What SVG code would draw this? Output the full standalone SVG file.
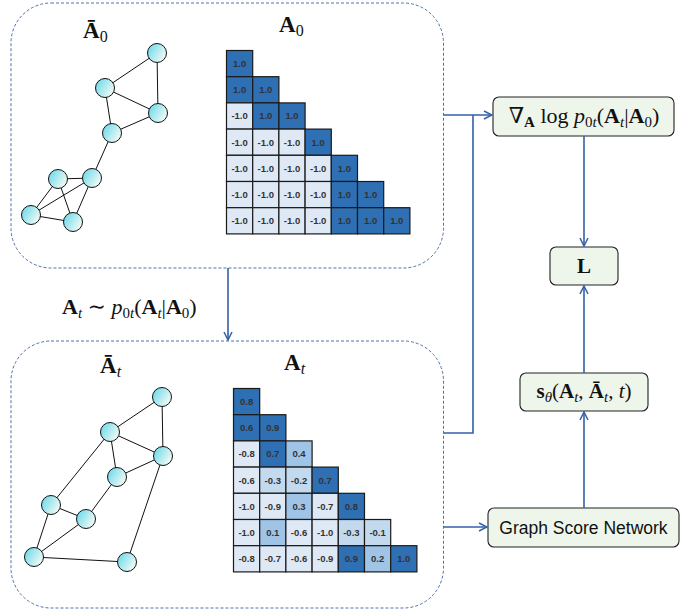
<svg xmlns="http://www.w3.org/2000/svg" width="699" height="612" viewBox="0 0 699 612">
<style>
.panel{fill:#fff;stroke:#4d72ad;stroke-width:1;stroke-dasharray:3 2}
.con{fill:none;stroke:#3560a8;stroke-width:1.6}
.edge{stroke:#111;stroke-width:1}
.nd{fill:url(#ng);stroke:#111;stroke-width:1}
.cell rect{stroke:#1a1a1a;stroke-width:1.2}
.d{fill:#2f6fb3}.l{fill:#dfe9f5}.m{fill:#9fc4e6}.s{fill:#c3d9ee}
.cell text{font-family:"Liberation Sans",Arial,sans-serif;font-weight:bold;font-size:9.5px;fill:#333;text-anchor:middle}
.box{fill:#eef6ec;stroke:#222;stroke-width:1.1}
.math{font-family:"Liberation Serif","DejaVu Serif",serif;font-size:21px;fill:#111}
.big{font-size:23px}
.b{font-weight:bold;font-style:normal}
.i{font-style:italic}
.sub{font-size:15px}
.sans{font-family:"Liberation Sans",Arial,sans-serif;font-size:17.5px;fill:#111}
</style>
<defs>
<linearGradient id="ng" x1="0" y1="0" x2="1" y2="0.6">
<stop offset="0" stop-color="#5fd6ea"/>
<stop offset="1" stop-color="#f0faf4"/>
</linearGradient>
<marker id="ah" viewBox="0 0 10 10" refX="9" refY="5" markerWidth="10" markerHeight="10" markerUnits="userSpaceOnUse" orient="auto">
<path d="M1,1 L9,5 L1,9" fill="none" stroke="#3560a8" stroke-width="1.5"/>
</marker>
</defs>

<g id="panel-top">
<rect class="panel" x="11" y="3" width="432.5" height="265" rx="40"/>
<text class="math big" x="83" y="38"><tspan class="b">Ā</tspan><tspan class="sub" dy="4" style="font-size:16px">0</tspan></text>
<text class="math big" x="279" y="32"><tspan class="b">A</tspan><tspan class="sub" dy="4" style="font-size:16px">0</tspan></text>
</g>

<g id="graph-top">
<line class="edge" x1="157" y1="53" x2="105" y2="88"/>
<line class="edge" x1="157" y1="53" x2="158" y2="113"/>
<line class="edge" x1="105" y1="88" x2="158" y2="113"/>
<line class="edge" x1="105" y1="88" x2="112" y2="133"/>
<line class="edge" x1="112" y1="133" x2="158" y2="113"/>
<line class="edge" x1="112" y1="133" x2="92" y2="178"/>
<line class="edge" x1="92" y1="178" x2="58" y2="179"/>
<line class="edge" x1="92" y1="178" x2="31" y2="215"/>
<line class="edge" x1="92" y1="178" x2="73" y2="222"/>
<line class="edge" x1="58" y1="179" x2="31" y2="215"/>
<line class="edge" x1="58" y1="179" x2="73" y2="222"/>
<line class="edge" x1="31" y1="215" x2="73" y2="222"/>
<circle class="nd" cx="157" cy="53" r="9.5"/>
<circle class="nd" cx="105" cy="88" r="9.5"/>
<circle class="nd" cx="158" cy="113" r="9.5"/>
<circle class="nd" cx="112" cy="133" r="9.5"/>
<circle class="nd" cx="92" cy="178" r="9.5"/>
<circle class="nd" cx="58" cy="179" r="9.5"/>
<circle class="nd" cx="31" cy="215" r="9.5"/>
<circle class="nd" cx="73" cy="222" r="9.5"/>
</g>

<g id="matrix-top">
<g class="cell" transform="translate(226.5,50.5)"><rect class="d" width="26.2" height="26.2"/><text x="13.1" y="16.5">1.0</text></g>
<g class="cell" transform="translate(226.5,76.7)"><rect class="d" width="26.2" height="26.2"/><text x="13.1" y="16.5">1.0</text></g>
<g class="cell" transform="translate(252.7,76.7)"><rect class="d" width="26.2" height="26.2"/><text x="13.1" y="16.5">1.0</text></g>
<g class="cell" transform="translate(226.5,102.9)"><rect class="l" width="26.2" height="26.2"/><text x="13.1" y="16.5">-1.0</text></g>
<g class="cell" transform="translate(252.7,102.9)"><rect class="d" width="26.2" height="26.2"/><text x="13.1" y="16.5">1.0</text></g>
<g class="cell" transform="translate(278.9,102.9)"><rect class="d" width="26.2" height="26.2"/><text x="13.1" y="16.5">1.0</text></g>
<g class="cell" transform="translate(226.5,129.1)"><rect class="l" width="26.2" height="26.2"/><text x="13.1" y="16.5">-1.0</text></g>
<g class="cell" transform="translate(252.7,129.1)"><rect class="l" width="26.2" height="26.2"/><text x="13.1" y="16.5">-1.0</text></g>
<g class="cell" transform="translate(278.9,129.1)"><rect class="l" width="26.2" height="26.2"/><text x="13.1" y="16.5">-1.0</text></g>
<g class="cell" transform="translate(305.1,129.1)"><rect class="d" width="26.2" height="26.2"/><text x="13.1" y="16.5">1.0</text></g>
<g class="cell" transform="translate(226.5,155.3)"><rect class="l" width="26.2" height="26.2"/><text x="13.1" y="16.5">-1.0</text></g>
<g class="cell" transform="translate(252.7,155.3)"><rect class="l" width="26.2" height="26.2"/><text x="13.1" y="16.5">-1.0</text></g>
<g class="cell" transform="translate(278.9,155.3)"><rect class="l" width="26.2" height="26.2"/><text x="13.1" y="16.5">-1.0</text></g>
<g class="cell" transform="translate(305.1,155.3)"><rect class="l" width="26.2" height="26.2"/><text x="13.1" y="16.5">-1.0</text></g>
<g class="cell" transform="translate(331.3,155.3)"><rect class="d" width="26.2" height="26.2"/><text x="13.1" y="16.5">1.0</text></g>
<g class="cell" transform="translate(226.5,181.5)"><rect class="l" width="26.2" height="26.2"/><text x="13.1" y="16.5">-1.0</text></g>
<g class="cell" transform="translate(252.7,181.5)"><rect class="l" width="26.2" height="26.2"/><text x="13.1" y="16.5">-1.0</text></g>
<g class="cell" transform="translate(278.9,181.5)"><rect class="l" width="26.2" height="26.2"/><text x="13.1" y="16.5">-1.0</text></g>
<g class="cell" transform="translate(305.1,181.5)"><rect class="l" width="26.2" height="26.2"/><text x="13.1" y="16.5">-1.0</text></g>
<g class="cell" transform="translate(331.3,181.5)"><rect class="d" width="26.2" height="26.2"/><text x="13.1" y="16.5">1.0</text></g>
<g class="cell" transform="translate(357.5,181.5)"><rect class="d" width="26.2" height="26.2"/><text x="13.1" y="16.5">1.0</text></g>
<g class="cell" transform="translate(226.5,207.7)"><rect class="l" width="26.2" height="26.2"/><text x="13.1" y="16.5">-1.0</text></g>
<g class="cell" transform="translate(252.7,207.7)"><rect class="l" width="26.2" height="26.2"/><text x="13.1" y="16.5">-1.0</text></g>
<g class="cell" transform="translate(278.9,207.7)"><rect class="l" width="26.2" height="26.2"/><text x="13.1" y="16.5">-1.0</text></g>
<g class="cell" transform="translate(305.1,207.7)"><rect class="l" width="26.2" height="26.2"/><text x="13.1" y="16.5">-1.0</text></g>
<g class="cell" transform="translate(331.3,207.7)"><rect class="d" width="26.2" height="26.2"/><text x="13.1" y="16.5">1.0</text></g>
<g class="cell" transform="translate(357.5,207.7)"><rect class="d" width="26.2" height="26.2"/><text x="13.1" y="16.5">1.0</text></g>
<g class="cell" transform="translate(383.7,207.7)"><rect class="d" width="26.2" height="26.2"/><text x="13.1" y="16.5">1.0</text></g>
</g>

<g id="panel-bottom">
<rect class="panel" x="11" y="341" width="432.5" height="267" rx="40"/>
<text class="math big" x="100" y="373"><tspan class="b">Ā</tspan><tspan class="sub i" dy="4" style="font-size:16px">t</tspan></text>
<text class="math big" x="284" y="370"><tspan class="b">A</tspan><tspan class="sub i" dy="4" style="font-size:16px">t</tspan></text>
</g>

<g id="graph-bottom">
<line class="edge" x1="162" y1="397" x2="110" y2="432"/>
<line class="edge" x1="162" y1="397" x2="163" y2="456"/>
<line class="edge" x1="110" y1="432" x2="163" y2="456"/>
<line class="edge" x1="110" y1="432" x2="117" y2="477"/>
<line class="edge" x1="117" y1="477" x2="163" y2="456"/>
<line class="edge" x1="110" y1="432" x2="51" y2="505"/>
<line class="edge" x1="51" y1="505" x2="86" y2="519"/>
<line class="edge" x1="117" y1="477" x2="86" y2="519"/>
<line class="edge" x1="51" y1="505" x2="34" y2="557"/>
<line class="edge" x1="86" y1="519" x2="34" y2="557"/>
<line class="edge" x1="34" y1="557" x2="127" y2="562"/>
<line class="edge" x1="127" y1="562" x2="163" y2="456"/>
<circle class="nd" cx="162" cy="397" r="9.5"/>
<circle class="nd" cx="110" cy="432" r="9.5"/>
<circle class="nd" cx="163" cy="456" r="9.5"/>
<circle class="nd" cx="117" cy="477" r="9.5"/>
<circle class="nd" cx="51" cy="505" r="9.5"/>
<circle class="nd" cx="86" cy="519" r="9.5"/>
<circle class="nd" cx="34" cy="557" r="9.5"/>
<circle class="nd" cx="127" cy="562" r="9.5"/>
</g>

<g id="matrix-bottom">
<g class="cell" transform="translate(233.5,388.5)"><rect class="d" width="26.2" height="26.2"/><text x="13.1" y="16.5">0.8</text></g>
<g class="cell" transform="translate(233.5,414.7)"><rect class="d" width="26.2" height="26.2"/><text x="13.1" y="16.5">0.6</text></g>
<g class="cell" transform="translate(259.7,414.7)"><rect class="d" width="26.2" height="26.2"/><text x="13.1" y="16.5">0.9</text></g>
<g class="cell" transform="translate(233.5,440.9)"><rect class="l" width="26.2" height="26.2"/><text x="13.1" y="16.5">-0.8</text></g>
<g class="cell" transform="translate(259.7,440.9)"><rect class="d" width="26.2" height="26.2"/><text x="13.1" y="16.5">0.7</text></g>
<g class="cell" transform="translate(285.9,440.9)"><rect class="m" width="26.2" height="26.2"/><text x="13.1" y="16.5">0.4</text></g>
<g class="cell" transform="translate(233.5,467.1)"><rect class="l" width="26.2" height="26.2"/><text x="13.1" y="16.5">-0.6</text></g>
<g class="cell" transform="translate(259.7,467.1)"><rect class="s" width="26.2" height="26.2"/><text x="13.1" y="16.5">-0.3</text></g>
<g class="cell" transform="translate(285.9,467.1)"><rect class="s" width="26.2" height="26.2"/><text x="13.1" y="16.5">-0.2</text></g>
<g class="cell" transform="translate(312.1,467.1)"><rect class="d" width="26.2" height="26.2"/><text x="13.1" y="16.5">0.7</text></g>
<g class="cell" transform="translate(233.5,493.3)"><rect class="l" width="26.2" height="26.2"/><text x="13.1" y="16.5">-1.0</text></g>
<g class="cell" transform="translate(259.7,493.3)"><rect class="l" width="26.2" height="26.2"/><text x="13.1" y="16.5">-0.9</text></g>
<g class="cell" transform="translate(285.9,493.3)"><rect class="m" width="26.2" height="26.2"/><text x="13.1" y="16.5">0.3</text></g>
<g class="cell" transform="translate(312.1,493.3)"><rect class="l" width="26.2" height="26.2"/><text x="13.1" y="16.5">-0.7</text></g>
<g class="cell" transform="translate(338.3,493.3)"><rect class="d" width="26.2" height="26.2"/><text x="13.1" y="16.5">0.8</text></g>
<g class="cell" transform="translate(233.5,519.5)"><rect class="l" width="26.2" height="26.2"/><text x="13.1" y="16.5">-1.0</text></g>
<g class="cell" transform="translate(259.7,519.5)"><rect class="m" width="26.2" height="26.2"/><text x="13.1" y="16.5">0.1</text></g>
<g class="cell" transform="translate(285.9,519.5)"><rect class="l" width="26.2" height="26.2"/><text x="13.1" y="16.5">-0.6</text></g>
<g class="cell" transform="translate(312.1,519.5)"><rect class="l" width="26.2" height="26.2"/><text x="13.1" y="16.5">-1.0</text></g>
<g class="cell" transform="translate(338.3,519.5)"><rect class="s" width="26.2" height="26.2"/><text x="13.1" y="16.5">-0.3</text></g>
<g class="cell" transform="translate(364.5,519.5)"><rect class="s" width="26.2" height="26.2"/><text x="13.1" y="16.5">-0.1</text></g>
<g class="cell" transform="translate(233.5,545.7)"><rect class="l" width="26.2" height="26.2"/><text x="13.1" y="16.5">-0.8</text></g>
<g class="cell" transform="translate(259.7,545.7)"><rect class="l" width="26.2" height="26.2"/><text x="13.1" y="16.5">-0.7</text></g>
<g class="cell" transform="translate(285.9,545.7)"><rect class="l" width="26.2" height="26.2"/><text x="13.1" y="16.5">-0.6</text></g>
<g class="cell" transform="translate(312.1,545.7)"><rect class="l" width="26.2" height="26.2"/><text x="13.1" y="16.5">-0.9</text></g>
<g class="cell" transform="translate(338.3,545.7)"><rect class="d" width="26.2" height="26.2"/><text x="13.1" y="16.5">0.9</text></g>
<g class="cell" transform="translate(364.5,545.7)"><rect class="m" width="26.2" height="26.2"/><text x="13.1" y="16.5">0.2</text></g>
<g class="cell" transform="translate(390.7,545.7)"><rect class="d" width="26.2" height="26.2"/><text x="13.1" y="16.5">1.0</text></g>
</g>

<g id="label-sample">
<text class="math" x="62" y="314" style="font-size:22px"><tspan class="b">A</tspan><tspan class="sub i" dy="4">t</tspan><tspan dy="-4"> ∼ </tspan><tspan class="i">p</tspan><tspan class="sub" dy="4">0<tspan class="i">t</tspan></tspan><tspan dy="-4">(</tspan><tspan class="b">A</tspan><tspan class="sub i" dy="4">t</tspan><tspan dy="-4">|</tspan><tspan class="b">A</tspan><tspan class="sub" dy="4">0</tspan><tspan dy="-4">)</tspan></text>
</g>

<g id="node-grad">
<rect class="box" x="493" y="97" width="181" height="39" rx="6"/>
<text class="math" x="584" y="123" text-anchor="middle" style="font-size:22px">∇<tspan class="sub b" dy="4">A</tspan><tspan dy="-4"> log </tspan><tspan class="i">p</tspan><tspan class="sub" dy="4">0<tspan class="i">t</tspan></tspan><tspan dy="-4">(</tspan><tspan class="b">A</tspan><tspan class="sub i" dy="4">t</tspan><tspan dy="-4">|</tspan><tspan class="b">A</tspan><tspan class="sub" dy="4">0</tspan><tspan dy="-4">)</tspan></text>
</g>

<g id="node-loss">
<rect class="box" x="550" y="247" width="68" height="38" rx="6"/>
<text class="math b" x="584" y="273" text-anchor="middle">L</text>
</g>

<g id="node-score">
<rect class="box" x="520" y="373" width="128" height="38" rx="6"/>
<text class="math" x="584" y="398" text-anchor="middle"><tspan class="b">s</tspan><tspan class="sub i" dy="4">θ</tspan><tspan dy="-4">(</tspan><tspan class="b">A</tspan><tspan class="sub i" dy="4">t</tspan><tspan dy="-4">, </tspan><tspan class="b">Ā</tspan><tspan class="sub i" dy="4">t</tspan><tspan dy="-4">, </tspan><tspan class="i">t</tspan><tspan>)</tspan></text>
</g>

<g id="node-gsn">
<rect class="box" x="488" y="508" width="191" height="39" rx="6"/>
<text class="sans" x="583.5" y="534" text-anchor="middle">Graph Score Network</text>
</g>

<g id="connectors">
<path class="con" d="M228,268 V340" marker-end="url(#ah)"/>
<path class="con" d="M443.5,115 H492" marker-end="url(#ah)"/>
<path class="con" d="M443.5,433 H473 V115"/>
<path class="con" d="M584,136 V246" marker-end="url(#ah)"/>
<path class="con" d="M584,373 V286" marker-end="url(#ah)"/>
<path class="con" d="M584,508 V412" marker-end="url(#ah)"/>
<path class="con" d="M443.5,527 H487" marker-end="url(#ah)"/>
</g>
</svg>
